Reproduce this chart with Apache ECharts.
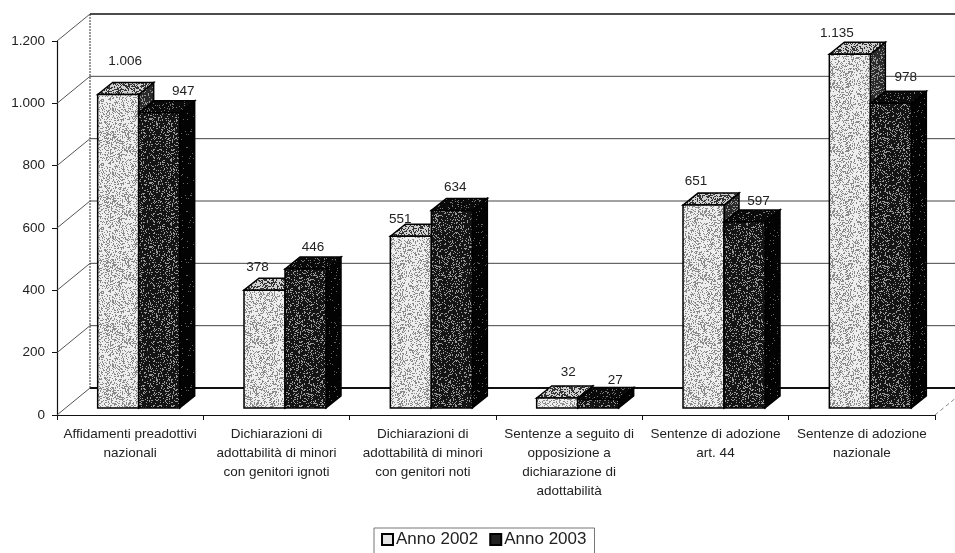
<!DOCTYPE html>
<html><head><meta charset="utf-8">
<style>html,body{margin:0;padding:0;background:#fff}#c{width:955px;height:553px}</style>
<script src="https://cdn.jsdelivr.net/npm/echarts@6/dist/echarts.min.js"></script></head>
<body><div id="c"></div>
<script>
const categories = [
  "Affidamenti preadottivi\nnazionali",
  "Dichiarazioni di\nadottabilità di minori\ncon genitori ignoti",
  "Dichiarazioni di\nadottabilità di minori\ncon genitori noti",
  "Sentenze a seguito di\nopposizione a\ndichiarazione di\nadottabilità",
  "Sentenze di adozione\nart. 44",
  "Sentenze di adozione\nnazionale"
];
const anno2002 = [1006, 378, 551, 32, 651, 1135];
const anno2003 = [947, 446, 634, 27, 597, 978];
const yTicks = [0, 200, 400, 600, 800, 1000, 1200];
const seriesNames = ["Anno 2002", "Anno 2003"];

// 3D look
const WALL = {dx: 33, dy: -27};
const PLANE = {dx: 8.5, dy: -7};
const DEPTH = {dx: 15, dy: -12};
const BAR_W = 41;
const labelShift = [
  [[7,-33],[-7,-23],[-10.5,-17],[11,-26],[-7.5,-24],[-13,-21]],
  [[24,-22],[7.5,-22],[3.5,-23],[17,-19],[14,-21],[15,-26]]
];
const fmt = v => String(v).replace(/\B(?=(\d{3})+$)/g, ".");

function speckle(bg, dot, density, seed) {
  const n = 64, cv = document.createElement("canvas");
  cv.width = cv.height = n;
  const g = cv.getContext("2d");
  g.fillStyle = bg; g.fillRect(0, 0, n, n);
  g.fillStyle = dot;
  for (let y = 0; y < n; y++) for (let x = 0; x < n; x++) {
    const h = Math.abs(Math.sin((x + seed) * 12.9898 + (y + seed) * 78.233) * 43758.5453) % 1;
    if (h < density) g.fillRect(x, y, 1, 1);
  }
  return {image: cv, repeat: "repeat"};
}
const fills = [
  {front: speckle("#eeeeee", "#8a8a8a", 0.30, 1), top: speckle("#d0d0d0", "#333", 0.40, 2), side: speckle("#2a2a2a", "#999", 0.22, 3)},
  {front: speckle("#141414", "#999", 0.20, 4), top: speckle("#0a0a0a", "#777", 0.10, 5), side: speckle("#030303", "#666", 0.03, 6)}
];

function poly(points, fill, extra) {
  return {type: "polygon", shape: {points}, style: Object.assign({fill, stroke: "#000", lineWidth: 1.5}, extra || {})};
}
function barItem(s) {
  return function (params, api) {
    const i = api.value(0), v = api.value(1);
    const t = api.coord([i, v]), b = api.coord([i, 0]);
    const x0 = t[0] + PLANE.dx + (s === 0 ? -BAR_W : 0), x1 = x0 + BAR_W;
    const yT = t[1] + PLANE.dy, yB = b[1] + PLANE.dy;
    const d = DEPTH, f = fills[s];
    const shift = labelShift[s][i];
    return {type: "group", children: [
      poly([[x1,yT],[x1+d.dx,yT+d.dy],[x1+d.dx,yB+d.dy],[x1,yB]], f.side),
      poly([[x0,yT],[x0+d.dx,yT+d.dy],[x1+d.dx,yT+d.dy],[x1,yT]], f.top),
      poly([[x0,yT],[x1,yT],[x1,yB],[x0,yB]], f.front),
      {type: "text", z2: 10, style: {text: fmt(v), x: (x0+x1)/2 + shift[0], y: yT + shift[1],
        align: "center", verticalAlign: "middle", fill: "#222", font: "13.5px 'Liberation Sans'"}}
    ]};
  };
}
function wallItem(params, api) {
  const v = api.value(0), cs = params.coordSys;
  const y = api.coord([0, v])[1], x = cs.x;
  const strong = v === 0 || v === 1200;
  const kids = [
    {type: "line", shape: {x1: x, y1: y, x2: x+WALL.dx, y2: y+WALL.dy}, style: {stroke: "#555", lineWidth: 1}},
    {type: "line", shape: {x1: x+WALL.dx, y1: y+WALL.dy, x2: x+cs.width+WALL.dx, y2: y+WALL.dy},
      style: {stroke: strong ? "#111" : "#444", lineWidth: strong ? (v === 0 ? 2 : 1.5) : 1}}
  ];
  if (v === 0) {
    kids.push({type: "line", shape: {x1: x+WALL.dx, y1: y+WALL.dy, x2: x+WALL.dx, y2: cs.y+WALL.dy},
      style: {stroke: "#333", lineWidth: 1, lineDash: [2, 1]}});
    kids.push({type: "line", shape: {x1: x+cs.width, y1: y, x2: x+cs.width+WALL.dx, y2: y+WALL.dy},
      style: {stroke: "#888", lineWidth: 1, lineDash: [4, 3]}});
  }
  return {type: "group", children: kids};
}

const chart = echarts.init(document.getElementById("c"), null, {renderer: "canvas"});
chart.setOption({
  animation: false,
  backgroundColor: "#fff",
  textStyle: {fontFamily: "Liberation Sans"},
  grid: {left: 57, right: 20, top: 41, bottom: 138, containLabel: false},
  legend: {
    left: 374, top: 528, width: 222, padding: [3, 8, 8, 7], itemGap: 11, itemWidth: 11, itemHeight: 11,
    borderColor: "#777", borderWidth: 1, backgroundColor: "#fff",
    textStyle: {fontSize: 17, color: "#222", padding: [0, 0, 0, -2]},
    data: [
      {name: seriesNames[0], icon: "rect", itemStyle: {color: "#e4e4e4", borderColor: "#000", borderWidth: 2}},
      {name: seriesNames[1], icon: "rect", itemStyle: {color: "#222", borderColor: "#000", borderWidth: 2}}
    ]
  },
  xAxis: {
    type: "category", data: categories,
    axisLine: {lineStyle: {color: "#111", width: 1}},
    axisTick: {show: true, alignWithLabel: false, length: 5, lineStyle: {color: "#111"}},
    axisLabel: {interval: 0, color: "#222", fontSize: 13.5, lineHeight: 19, margin: 10, hideOverlap: false},
    splitLine: {show: false}
  },
  yAxis: {
    type: "value", min: 0, max: 1200, interval: 200,
    axisLine: {show: true, lineStyle: {color: "#111", width: 1.2}},
    axisTick: {show: true, length: 5, lineStyle: {color: "#111"}},
    axisLabel: {color: "#222", fontSize: 13.5, margin: 12, formatter: v => fmt(v)},
    splitLine: {show: false}
  },
  series: [
    {type: "custom", name: "wall", silent: true, clip: false, z: 1, renderItem: wallItem,
      data: yTicks.map(v => [v]), encode: {y: 0}},
    {type: "custom", name: seriesNames[0], clip: false, z: 2, renderItem: barItem(0),
      itemStyle: {color: "#e4e4e4"}, encode: {x: 0, y: 1},
      data: anno2002.map((v, i) => [i, v])},
    {type: "custom", name: seriesNames[1], clip: false, z: 3, renderItem: barItem(1),
      itemStyle: {color: "#222"}, encode: {x: 0, y: 1},
      data: anno2003.map((v, i) => [i, v])}
  ]
});
</script></body></html>
